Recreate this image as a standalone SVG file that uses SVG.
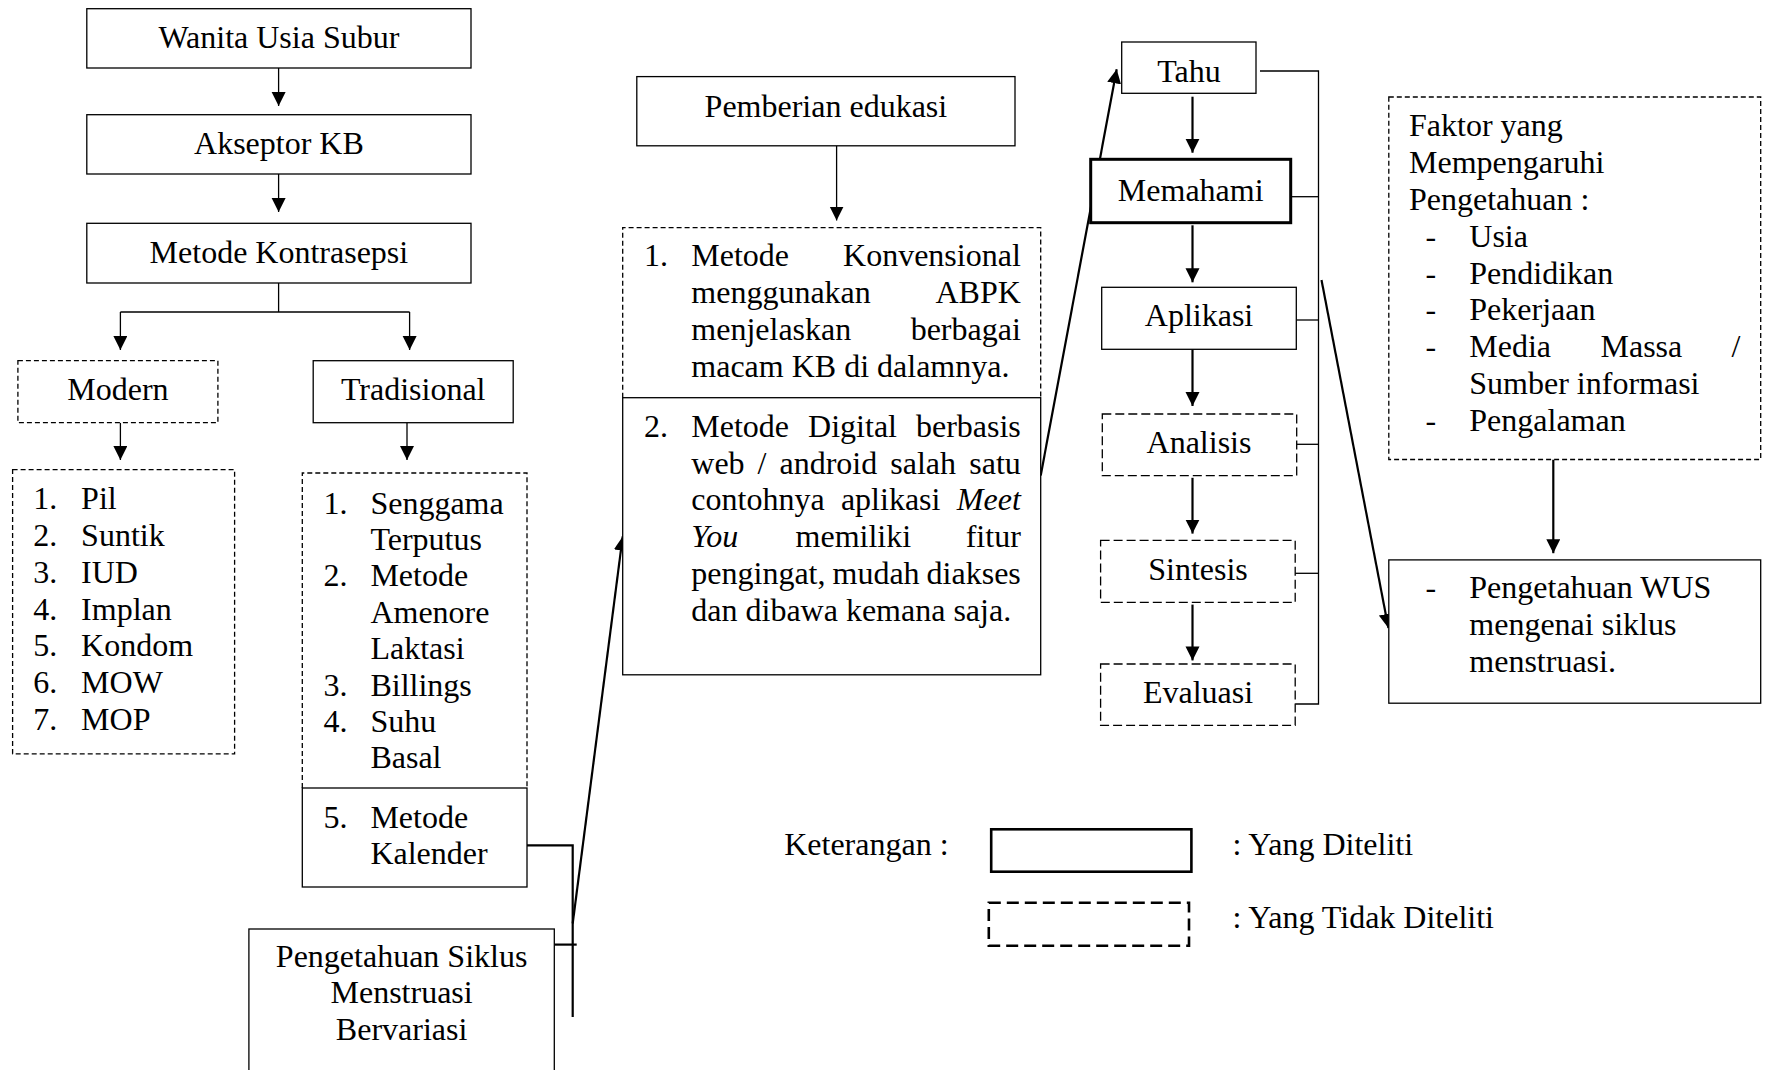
<svg xmlns="http://www.w3.org/2000/svg" width="1766" height="1070" viewBox="0 0 1766 1070">
<defs>
<style>
.t{font-family:"Liberation Serif","Times New Roman",serif;font-size:32px;fill:#000}
.c{text-anchor:middle}
.e{text-anchor:end}
.i{font-style:italic}
.box{fill:#fff;stroke:#000;stroke-width:1.3}
.dash{fill:#fff;stroke:#000;stroke-width:1.3;stroke-dasharray:5 3}
.dash2{fill:#fff;stroke:#000;stroke-width:1.3;stroke-dasharray:9 4}
.thick{fill:#fff;stroke:#000;stroke-width:3}
.conn{fill:none;stroke:#000;stroke-width:1.3}
.conn2{fill:none;stroke:#000;stroke-width:2.2}
.arr{marker-end:url(#ah)}
</style>
<marker id="ah" markerUnits="userSpaceOnUse" markerWidth="15" markerHeight="15" refX="14" refY="7" orient="auto">
<path d="M0,0 L14,7 L0,14 Z" fill="#000"/>
</marker>
</defs>
<rect x="0" y="0" width="1766" height="1070" fill="#fff"/>

<g id="connectors">
<line class="conn arr" x1="278.6" y1="68" x2="278.6" y2="106"/>
<line class="conn arr" x1="278.6" y1="174" x2="278.6" y2="212"/>
<polyline class="conn" points="278.6,283 278.6,312"/>
<polyline class="conn" points="120.4,312 409.6,312"/>
<line class="conn arr" x1="120.4" y1="312" x2="120.4" y2="350"/>
<line class="conn arr" x1="409.6" y1="312" x2="409.6" y2="350"/>
<line class="conn arr" x1="120.4" y1="422.7" x2="120.4" y2="460"/>
<line class="conn arr" x1="407" y1="422.7" x2="407" y2="460"/>
<line class="conn arr" x1="836.6" y1="145.8" x2="836.6" y2="220.5"/>
<polyline class="conn2" points="527,845.3 572.7,845.3 572.7,1017"/>
<line class="conn2" x1="554.3" y1="944.6" x2="576.7" y2="944.6"/>
<line class="conn2 arr" x1="572.7" y1="923.5" x2="622.7" y2="536.4"/>
<line class="conn2 arr" x1="1040.7" y1="475.5" x2="1116.7" y2="69.3"/>
<line class="conn2 arr" x1="1192.5" y1="96.7" x2="1192.5" y2="152.7"/>
<line class="conn2 arr" x1="1192.5" y1="225.3" x2="1192.5" y2="282.3"/>
<line class="conn2 arr" x1="1192.5" y1="349.3" x2="1192.5" y2="406"/>
<line class="conn2 arr" x1="1192.5" y1="477.8" x2="1192.5" y2="533.6"/>
<line class="conn2 arr" x1="1192.5" y1="604.6" x2="1192.5" y2="660.4"/>
<polyline class="conn" points="1260,71 1318.5,71 1318.5,704 1295.2,704"/>
<line class="conn" x1="1292" y1="196.7" x2="1318.5" y2="196.7"/>
<line class="conn" x1="1296.3" y1="320" x2="1318.5" y2="320"/>
<line class="conn" x1="1296.7" y1="444.3" x2="1318.5" y2="444.3"/>
<line class="conn" x1="1295.2" y1="573.3" x2="1318.5" y2="573.3"/>
<line class="conn2 arr" x1="1321.5" y1="280" x2="1388.4" y2="628"/>
<line class="conn2 arr" x1="1553.3" y1="459.5" x2="1553.3" y2="553.2"/>
</g>

<g id="wanita">
<rect class="box" x="86.8" y="8.7" width="384.2" height="59.3"/>
<text class="t c" x="278.9" y="48.3">Wanita Usia Subur</text>
</g>
<g id="akseptor">
<rect class="box" x="86.8" y="114.7" width="384.2" height="59.3"/>
<text class="t c" x="278.9" y="154">Akseptor KB</text>
</g>
<g id="metode-kontrasepsi">
<rect class="box" x="86.8" y="223.3" width="384.2" height="59.7"/>
<text class="t c" x="278.9" y="263.3">Metode Kontrasepsi</text>
</g>
<g id="modern">
<rect class="dash" x="17.9" y="360.7" width="200" height="62"/>
<text class="t c" x="117.9" y="400">Modern</text>
</g>
<g id="tradisional">
<rect class="box" x="313.2" y="360.7" width="200" height="62"/>
<text class="t c" x="413.2" y="400">Tradisional</text>
</g>
<g id="modern-list">
<rect class="dash" x="12.6" y="469.7" width="222" height="284.1"/>
<text class="t" x="33.3" y="509.1">1.</text><text class="t" x="81.1" y="509.1">Pil</text>
<text class="t" x="33.3" y="545.9">2.</text><text class="t" x="81.1" y="545.9">Suntik</text>
<text class="t" x="33.3" y="582.7">3.</text><text class="t" x="81.1" y="582.7">IUD</text>
<text class="t" x="33.3" y="619.5">4.</text><text class="t" x="81.1" y="619.5">Implan</text>
<text class="t" x="33.3" y="656.3">5.</text><text class="t" x="81.1" y="656.3">Kondom</text>
<text class="t" x="33.3" y="693.1">6.</text><text class="t" x="81.1" y="693.1">MOW</text>
<text class="t" x="33.3" y="729.9">7.</text><text class="t" x="81.1" y="729.9">MOP</text>
</g>
<g id="tradisional-list">
<rect x="302.3" y="473" width="224.7" height="315" fill="#fff"/>
<path class="dash" d="M302.3,788 V473 H527 V788" fill="none"/>
<text class="t" x="323.4" y="513.5">1.</text><text class="t" x="370.4" y="513.5">Senggama</text>
<text class="t" x="370.4" y="549.9">Terputus</text>
<text class="t" x="323.4" y="586.3">2.</text><text class="t" x="370.4" y="586.3">Metode</text>
<text class="t" x="370.4" y="622.7">Amenore</text>
<text class="t" x="370.4" y="659.1">Laktasi</text>
<text class="t" x="323.4" y="695.5">3.</text><text class="t" x="370.4" y="695.5">Billings</text>
<text class="t" x="323.4" y="731.9">4.</text><text class="t" x="370.4" y="731.9">Suhu</text>
<text class="t" x="370.4" y="768.3">Basal</text>
</g>
<g id="metode-kalender">
<rect class="box" x="302.3" y="788" width="224.7" height="99"/>
<text class="t" x="323.4" y="827.5">5.</text><text class="t" x="370.4" y="827.5">Metode</text>
<text class="t" x="370.4" y="863.9">Kalender</text>
</g>
<g id="pengetahuan-siklus">
<rect class="box" x="248.9" y="929" width="305.4" height="160"/>
<text class="t c" x="401.6" y="966.5">Pengetahuan Siklus</text>
<text class="t c" x="401.6" y="1003.3">Menstruasi</text>
<text class="t c" x="401.6" y="1040.1">Bervariasi</text>
</g>
<g id="pemberian-edukasi">
<rect class="box" x="636.8" y="76.6" width="378.2" height="69.2"/>
<text class="t c" x="825.9" y="116.8">Pemberian edukasi</text>
</g>
<g id="metode-konvensional">
<rect x="622.7" y="227.6" width="418" height="170.1" fill="#fff"/>
<path class="dash" d="M622.7,397.7 V227.6 H1040.7 V397.7" fill="none"/>
<text class="t" x="644" y="266.1">1.</text>
<text class="t" x="691.3" y="266.1">Metode</text><text class="t e" x="1020.8" y="266.1">Konvensional</text>
<text class="t" x="691.3" y="303">menggunakan</text><text class="t e" x="1020.8" y="303">ABPK</text>
<text class="t" x="691.3" y="339.8">menjelaskan</text><text class="t e" x="1020.8" y="339.8">berbagai</text>
<text class="t" x="691.3" y="376.6">macam KB di dalamnya.</text>
</g>
<g id="metode-digital">
<rect class="box" x="622.7" y="397.7" width="418" height="277.1"/>
<text class="t" x="644" y="436.8">2.</text>
<text class="t" x="691.3" y="436.8">Metode</text><text class="t" x="808.1" y="436.8">Digital</text><text class="t e" x="1020.8" y="436.8">berbasis</text>
<text class="t" x="691.3" y="473.6">web</text><text class="t" x="757.6" y="473.6">/</text><text class="t" x="779.5" y="473.6">android</text><text class="t" x="890.3" y="473.6">salah</text><text class="t e" x="1020.8" y="473.6">satu</text>
<text class="t" x="691.3" y="510.4">contohnya</text><text class="t" x="840.9" y="510.4">aplikasi</text><text class="t e i" x="1020.8" y="510.4">Meet</text>
<text class="t i" x="691.3" y="547.2">You</text><text class="t" x="795.6" y="547.2">memiliki</text><text class="t e" x="1020.8" y="547.2">fitur</text>
<text class="t" x="691.3" y="584">pengingat,</text><text class="t" x="832.5" y="584">mudah</text><text class="t e" x="1020.8" y="584">diakses</text>
<text class="t" x="691.3" y="620.8">dan dibawa kemana saja.</text>
</g>
<g id="tahu">
<rect class="box" x="1121.7" y="42" width="134.3" height="51.3"/>
<text class="t c" x="1189" y="81.7">Tahu</text>
</g>
<g id="memahami">
<rect class="thick" x="1090.7" y="159.3" width="200" height="63.4"/>
<text class="t c" x="1190.7" y="200.7">Memahami</text>
</g>
<g id="aplikasi">
<rect class="box" x="1101.7" y="287.3" width="194.6" height="62"/>
<text class="t c" x="1199" y="325.7">Aplikasi</text>
</g>
<g id="analisis">
<rect class="dash2" x="1102.3" y="414" width="194.4" height="61.7"/>
<text class="t c" x="1199" y="453.3">Analisis</text>
</g>
<g id="sintesis">
<rect class="dash2" x="1100.6" y="540.3" width="194.6" height="62"/>
<text class="t c" x="1198" y="580">Sintesis</text>
</g>
<g id="evaluasi">
<rect class="dash2" x="1100.6" y="664" width="194.6" height="61.3"/>
<text class="t c" x="1198" y="703.2">Evaluasi</text>
</g>
<g id="faktor">
<rect class="dash" x="1388.8" y="97" width="371.9" height="362.5"/>
<text class="t" x="1409" y="136.3">Faktor yang</text>
<text class="t" x="1409" y="173.1">Mempengaruhi</text>
<text class="t" x="1409" y="209.9">Pengetahuan :</text>
<text class="t" x="1425.6" y="246.7">-</text><text class="t" x="1469.3" y="246.7">Usia</text>
<text class="t" x="1425.6" y="283.5">-</text><text class="t" x="1469.3" y="283.5">Pendidikan</text>
<text class="t" x="1425.6" y="320.3">-</text><text class="t" x="1469.3" y="320.3">Pekerjaan</text>
<text class="t" x="1425.6" y="357.1">-</text><text class="t" x="1469.3" y="357.1">Media</text><text class="t" x="1600.5" y="357.1">Massa</text><text class="t e" x="1740.5" y="357.1">/</text>
<text class="t" x="1469.3" y="393.9">Sumber informasi</text>
<text class="t" x="1425.6" y="430.7">-</text><text class="t" x="1469.3" y="430.7">Pengalaman</text>
</g>
<g id="pengetahuan-wus">
<rect class="box" x="1388.8" y="559.9" width="371.9" height="143.3"/>
<text class="t" x="1425.6" y="597.9">-</text><text class="t" x="1469.3" y="597.9">Pengetahuan WUS</text>
<text class="t" x="1469.3" y="634.9">mengenai siklus</text>
<text class="t" x="1469.3" y="671.9">menstruasi.</text>
</g>
<g id="legend">
<text class="t" x="784.2" y="855">Keterangan :</text>
<rect x="991.2" y="829.3" width="200.2" height="42.4" fill="#fff" stroke="#000" stroke-width="2.6"/>
<text class="t" x="1232.6" y="855">: Yang Diteliti</text>
<rect x="988.8" y="902.7" width="200.2" height="43" fill="#fff" stroke="#000" stroke-width="2.6" stroke-dasharray="12 6"/>
<text class="t" x="1232.6" y="928.3">: Yang Tidak Diteliti</text>
</g>
</svg>
